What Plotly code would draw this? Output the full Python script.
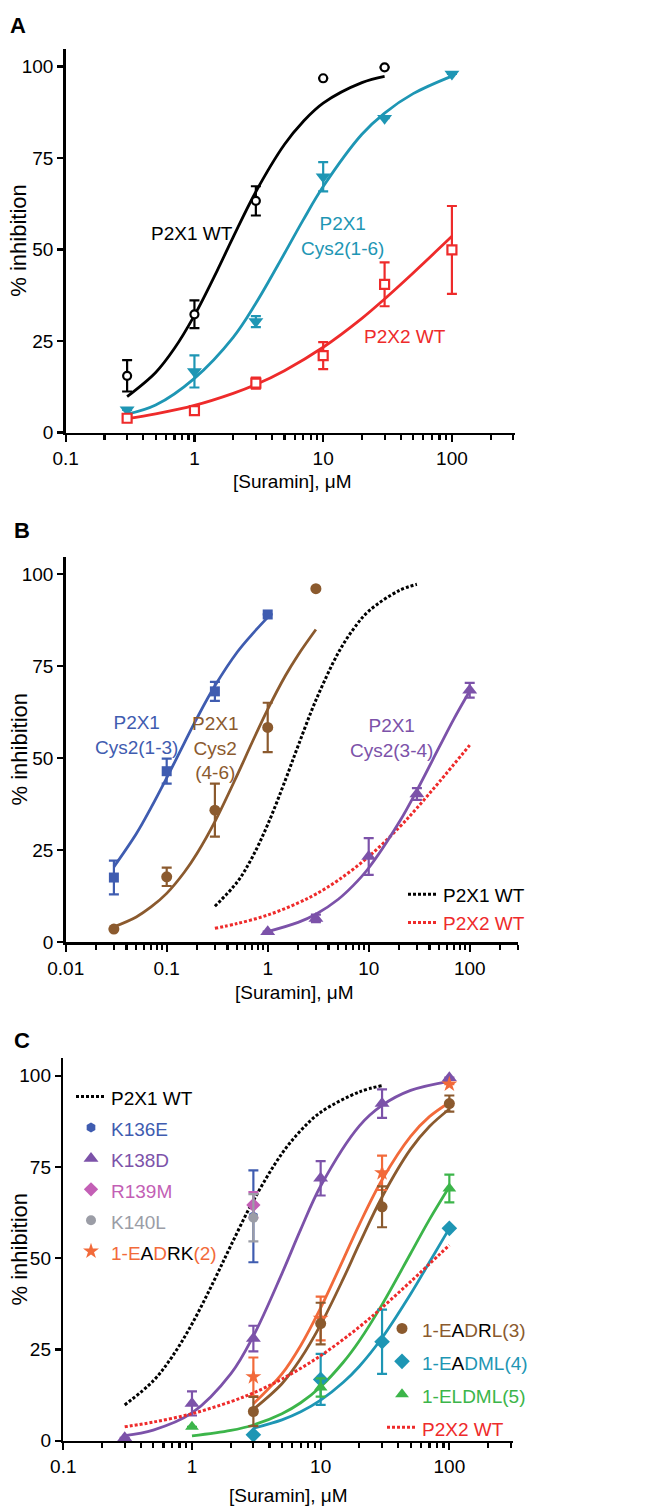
import plotly.graph_objects as go

W, H = 657, 1507

# ---------------- Panel A data ----------------
a_wt1_x = [0.3, 1, 3, 10, 30]
a_wt1_y = [15.5, 32.3, 63.3, 96.8, 99.8]
a_wt1_err = [4.3, 3.8, 4.0, 0, 0]

a_cys16_x = [0.3, 1, 3, 10, 30, 100]
a_cys16_y = [6.2, 16.7, 30.3, 69.9, 85.9, 98.0]
a_cys16_err = [0, 4.4, 1.5, 4.0, 0, 0]

a_wt2_x = [0.3, 1, 3, 10, 30, 100]
a_wt2_y = [3.9, 6.0, 13.5, 21.0, 40.5, 49.9]
a_wt2_err = [0, 0, 1.5, 3.7, 6.0, 12.0]

# fitted curves
wt1_fit_x = [0.3, 0.5, 0.7, 1, 1.5, 2, 3, 5, 7, 10, 20, 30]
wt1_fit_y = [9.8, 16.4, 23.0, 32.0, 44.2, 53.4, 65.8, 78.7, 85.0, 90.0, 95.6, 97.3]
wt2_fit_x = [0.3, 0.5, 1, 2, 3, 5, 10, 20, 30, 50, 100]
wt2_fit_y = [3.8, 5.1, 7.4, 10.7, 13.1, 16.9, 23.3, 31.2, 36.5, 43.6, 53.6]
cys16_fit_x = [0.3, 0.5, 1, 2, 3, 5, 7, 10, 20, 30, 50, 100]
cys16_fit_y = [5.0, 7.5, 14.8, 26.0, 35.3, 48.9, 58.1, 67.2, 81.5, 87.3, 92.6, 97.4]

# ---------------- Panel B data ----------------
b_cys13_x = [0.03, 0.1, 0.3, 1]
b_cys13_y = [17.6, 46.5, 68.2, 89.1]
b_cys13_err = [4.6, 3.4, 2.6, 0]
b_cys46_x = [0.03, 0.1, 0.3, 1, 3]
b_cys46_y = [3.6, 17.8, 35.9, 58.4, 96.1]
b_cys46_err = [0, 2.5, 7.2, 6.7, 0]
b_cys34_x = [1, 3, 10, 30, 100]
b_cys34_y = [2.9, 6.5, 23.3, 40.3, 68.5]
b_cys34_err = [0, 1.0, 5.0, 1.6, 2.0]

cys13_fit_x = [0.03, 0.05, 0.07, 0.1, 0.15, 0.2, 0.3, 0.5, 0.7, 1]
cys13_fit_y = [20.5, 29.5, 36.6, 44.7, 54.3, 61.0, 69.7, 78.9, 83.7, 88.3]
cys46_fit_x = [0.03, 0.05, 0.07, 0.1, 0.15, 0.2, 0.3, 0.5, 0.7, 1, 1.5, 2, 3]
cys46_fit_y = [4.2, 6.9, 9.6, 13.3, 19.1, 24.2, 32.8, 45.5, 54.3, 63.3, 72.5, 78.1, 85.0]
cys34_fit_x = [1, 2, 3, 5, 7, 10, 20, 30, 50, 70, 100]
cys34_fit_y = [2.9, 5.4, 7.6, 11.7, 15.4, 20.2, 32.6, 41.3, 53.1, 60.8, 68.3]

# ---------------- Panel C data ----------------
c_k136e_x, c_k136e_y, c_k136e_err = [3], [61.5], [12.6]
c_r139m_x, c_r139m_y, c_r139m_err = [3], [64.6], [3.5]
c_k140l_x, c_k140l_y, c_k140l_err = [3], [61.1], [6.5]
c_k138d_x = [0.3, 1, 3, 10, 30, 100]
c_k138d_y = [0.8, 10.2, 28.0, 71.9, 92.4, 99.5]
c_k138d_err = [0, 3.3, 3.5, 4.7, 3.9, 0]
c_eadrk_x = [3, 10, 30, 100]
c_eadrk_y = [17.5, 33.5, 73.4, 97.7]
c_eadrk_err = [5.3, 6.0, 4.7, 0]
c_eadrl_x = [3, 10, 30, 100]
c_eadrl_y = [8.0, 32.1, 64.1, 92.4]
c_eadrl_err = [4.0, 5.7, 5.6, 2.2]
c_eadml_x = [3, 10, 30, 100]
c_eadml_y = [1.6, 16.8, 27.1, 58.2]
c_eadml_err = [0, 7.0, 8.8, 0]
c_eldml_x = [1, 10, 100]
c_eldml_y = [3.8, 14.6, 69.1]
c_eldml_err = [0, 2.5, 3.8]

k138d_fit_x = [0.3, 0.5, 1, 2, 3, 5, 7, 10, 20, 30, 50, 100]
k138d_fit_y = [1.4, 2.9, 7.6, 18.3, 28.7, 45.8, 57.9, 69.8, 86.3, 91.9, 96.0, 98.5]
eadrk_fit_x = [3, 5, 7, 10, 15, 20, 30, 50, 70, 100]
eadrk_fit_y = [10.1, 18.3, 26.1, 36.4, 49.7, 59.3, 71.5, 83.4, 88.8, 92.7]
eadrl_fit_x = [3, 5, 7, 10, 15, 20, 30, 50, 70, 100]
eadrl_fit_y = [8.6, 15.6, 22.5, 31.8, 44.4, 54.0, 66.8, 79.9, 86.1, 90.9]
eadml_fit_x = [3, 5, 7, 10, 15, 20, 30, 50, 70, 100]
eadml_fit_y = [3.4, 5.7, 7.9, 11.1, 16.0, 20.4, 28.2, 40.2, 48.9, 58.2]
eldml_fit_x = [1, 2, 3, 5, 7, 10, 15, 20, 30, 50, 70, 100]
eldml_fit_y = [1.3, 2.8, 4.3, 7.4, 10.4, 14.8, 21.5, 27.4, 37.3, 51.3, 60.6, 69.6]

# tick labels
ticks_A = [0.1, 1, 10, 100]
ticks_B = [0.01, 0.1, 1, 10, 100]
yticks = [0, 25, 50, 75, 100]

# ---------------- styles ----------------
BLACK = "#000000"
TEAL = "#1e96b4"
RED = "#ee2b2b"
BLUE = "#3f5cb0"
BROWN = "#8b5a2e"
PURPLE = "#7c52a9"
PINK = "#c35fb5"
GREY = "#9b9da6"
ORANGE = "#f26a3a"
GREEN = "#3cb54a"

FONT = "Liberation Sans, Arial, sans-serif"
FS = 19


def px(x):
    return x / W


def py(y):
    return 1 - y / H


fig = go.Figure()


def curve(x, y, color, ax, dash=None, name=None, legend=None):
    fig.add_trace(go.Scatter(
        x=x, y=y, mode="lines", xaxis=ax[0], yaxis=ax[1],
        line=dict(color=color, width=3 if dash else 2.8, shape="spline",
                  dash=dash),
        name=name or "", showlegend=legend is not None,
        legend=legend or "legend", hoverinfo="skip"))


def points(x, y, err, color, symbol, size, ax, name=None, legend=None,
           open_=False):
    fig.add_trace(go.Scatter(
        x=x, y=y, mode="markers", xaxis=ax[0], yaxis=ax[1],
        marker=dict(color="white" if open_ else color, symbol=symbol,
                    size=size,
                    line=dict(color=color, width=2.2 if open_ else 0)),
        error_y=dict(type="data", array=err, visible=True, color=color,
                     thickness=2.2, width=5),
        cliponaxis=False,
        name=name or "", showlegend=legend is not None,
        legend=legend or "legend"))


def sp(t, c):
    return '<span style="color:%s">%s</span>' % (c, t)


def lg(t):
    # legend entry text at the common text size
    return '<span style="font-size:%spx">%s</span>' % (FS, t)


A = ("x", "y")
B = ("x2", "y2")
C = ("x3", "y3")
DOT = "3px,2px"

# Panel A
curve(wt1_fit_x, wt1_fit_y, BLACK, A)
curve(cys16_fit_x, cys16_fit_y, TEAL, A)
curve(wt2_fit_x, wt2_fit_y, RED, A)
points(a_wt1_x, a_wt1_y, a_wt1_err, BLACK, "circle", 8, A, open_=True)
points(a_cys16_x, a_cys16_y, a_cys16_err, TEAL, "triangle-down", 13, A)
points(a_wt2_x, a_wt2_y, a_wt2_err, RED, "square", 9, A, open_=True)

# Panel B
curve(wt1_fit_x, wt1_fit_y, BLACK, B, dash=DOT, name=lg("P2X1 WT"), legend="legend")
curve(wt2_fit_x, wt2_fit_y, RED, B, dash=DOT, name=lg(sp("P2X2 WT", RED)),
      legend="legend")
curve(cys13_fit_x, cys13_fit_y, BLUE, B)
curve(cys46_fit_x, cys46_fit_y, BROWN, B)
curve(cys34_fit_x, cys34_fit_y, PURPLE, B)
points(b_cys13_x, b_cys13_y, b_cys13_err, BLUE, "square", 10, B)
points(b_cys46_x, b_cys46_y, b_cys46_err, BROWN, "circle", 11, B)
points(b_cys34_x, b_cys34_y, b_cys34_err, PURPLE, "triangle-up", 13, B)

# Panel C
curve(wt1_fit_x, wt1_fit_y, BLACK, C, dash=DOT, name=lg("P2X1 WT"), legend="legend2")
curve(k138d_fit_x, k138d_fit_y, PURPLE, C)
curve(eadrk_fit_x, eadrk_fit_y, ORANGE, C)
curve(eadrl_fit_x, eadrl_fit_y, BROWN, C)
curve(eadml_fit_x, eadml_fit_y, TEAL, C)
curve(eldml_fit_x, eldml_fit_y, GREEN, C)
points(c_k136e_x, c_k136e_y, c_k136e_err, BLUE, "hexagon", 10, C,
       name=lg(sp("K136E", BLUE)), legend="legend2")
points(c_k138d_x, c_k138d_y, c_k138d_err, PURPLE, "triangle-up", 13, C,
       name=lg(sp("K138D", PURPLE)), legend="legend2")
points(c_r139m_x, c_r139m_y, c_r139m_err, PINK, "diamond", 11, C,
       name=lg(sp("R139M", PINK)), legend="legend2")
points(c_k140l_x, c_k140l_y, c_k140l_err, GREY, "circle", 10, C,
       name=lg(sp("K140L", GREY)), legend="legend2")
points(c_eadrk_x, c_eadrk_y, c_eadrk_err, ORANGE, "star", 12, C,
       name=lg(sp("1-E", ORANGE) + sp("A", BLACK) + sp("D", ORANGE)
               + sp("RK", BLACK) + sp("(2)", ORANGE)),
       legend="legend2")
points(c_eadrl_x, c_eadrl_y, c_eadrl_err, BROWN, "circle", 11, C,
       name=lg(sp("1-E", BROWN) + sp("A", BLACK) + sp("D", BROWN)
               + sp("R", BLACK) + sp("L(3)", BROWN)),
       legend="legend3")
points(c_eadml_x, c_eadml_y, c_eadml_err, TEAL, "diamond", 12, C,
       name=lg(sp("1-E", TEAL) + sp("A", BLACK) + sp("DML(4)", TEAL)),
       legend="legend3")
points(c_eldml_x, c_eldml_y, c_eldml_err, GREEN, "triangle-up", 12, C,
       name=lg(sp("1-ELDML(5)", GREEN)), legend="legend3")
curve(wt2_fit_x, wt2_fit_y, RED, C, dash=DOT, name=lg(sp("P2X2 WT", RED)),
      legend="legend3")

font_ticks = dict(family=FONT, size=FS, color="black")


def minors(lo, hi):
    out = []
    d = lo
    while d < hi:
        for m in range(2, 10):
            v = m * d
            if v <= hi:
                out.append(v)
        d *= 10
    return out


def xaxis(domain, rng, tv):
    return dict(type="log", domain=domain, range=rng, showline=True,
                linecolor="black", linewidth=2.5, ticks="outside",
                ticklen=7, tickwidth=2.2, tickcolor="black", showgrid=False,
                zeroline=False, tickfont=font_ticks, tickmode="array",
                tickvals=tv, ticktext=[("%g" % v) for v in tv],
                minor=dict(tickmode="array", tickvals=minors(tv[0], 300),
                           ticks="outside", ticklen=5, tickwidth=2.2,
                           tickcolor="black", showgrid=False))


def yaxis(domain, anchor):
    return dict(domain=domain, range=[0, 104.8], showline=True,
                linecolor="black", linewidth=2.5, ticks="outside",
                ticklen=6, tickwidth=2.2, tickcolor="black", showgrid=False,
                zeroline=False, tickfont=font_ticks, tickmode="array",
                tickvals=yticks, ticktext=[str(v) for v in yticks],
                anchor=anchor)


def legend_at(x, y, fsize):
    return dict(font=dict(family=FONT, size=fsize, color="black"),
                bgcolor="rgba(0,0,0,0)", borderwidth=0,
                xanchor="left", yanchor="top", tracegroupgap=0,
                itemwidth=30, x=px(x), y=py(y))


fig.update_layout(
    width=W, height=H, margin=dict(l=0, r=0, t=0, b=0, autoexpand=False),
    paper_bgcolor="white", plot_bgcolor="white",
    xaxis=dict(xaxis([px(65.7), px(515)], [-1, 2.49], ticks_A), anchor="y"),
    yaxis=yaxis([py(432.5), py(49)], "x"),
    xaxis2=dict(xaxis([px(65.7), px(518)], [-2, 2.478], ticks_B), anchor="y2"),
    yaxis2=yaxis([py(942.3), py(556.7)], "x2"),
    xaxis3=dict(xaxis([px(63.3), px(513.3)], [-1, 2.497], ticks_A), anchor="y3"),
    yaxis3=yaxis([py(1440.7), py(1058.3)], "x3"),
    legend=legend_at(403, 875, 19.5),
    legend2=legend_at(71, 1076, 21.5),
    legend3=legend_at(382, 1307, 23),
    showlegend=True,
)


def note(text, x, y, color="black", size=FS, angle=0, bold=False):
    if bold:
        text = "<b>%s</b>" % text
    fig.add_annotation(text=text, x=px(x), y=py(y), xref="paper", yref="paper",
                       showarrow=False, xanchor="center", yanchor="middle",
                       textangle=angle, align="center",
                       font=dict(family=FONT, size=size, color=color))


# panel letters
note("A", 18, 25, size=22, bold=True)
note("B", 22, 531, size=22, bold=True)
note("C", 22, 1040, size=22, bold=True)

# axis titles
for yc in [240.7, 749.5, 1249.5]:
    note("% inhibition", 19, yc, size=22, angle=-90)
note("[Suramin], μM", 292, 482)
note("[Suramin], μM", 294, 992)
note("[Suramin], μM", 288, 1495)

# in-plot labels
note("P2X1 WT", 192, 233)
note("P2X1<br>Cys2(1-6)", 342, 236, color=TEAL)
note("P2X2 WT", 405, 337, color=RED)
note("P2X1<br>Cys2(1-3)", 136, 735, color=BLUE)
note("P2X1<br>Cys2<br>(4-6)", 215, 748, color=BROWN)
note("P2X1<br>Cys2(3-4)", 391, 738, color=PURPLE)

fig.write_html(
    "out.html",
    config={"displayModeBar": False, "staticPlot": True},
    post_script="document.body.style.margin='0px';"
                "document.body.style.overflow='hidden';")
